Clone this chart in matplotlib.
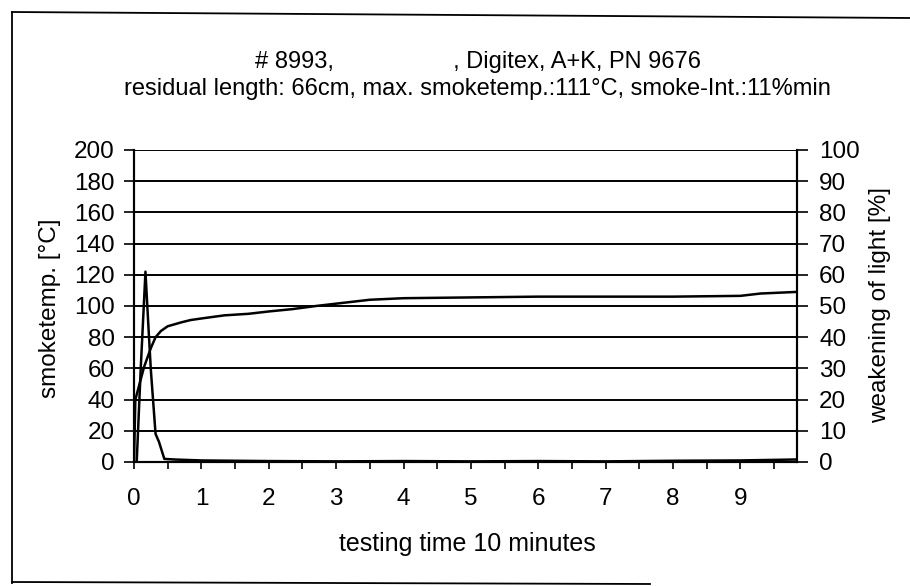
import matplotlib
matplotlib.use("Agg")
import matplotlib.pyplot as plt
from matplotlib.lines import Line2D
from matplotlib.ticker import MultipleLocator, FuncFormatter

plt.rcParams['font.family'] = ['Liberation Sans', 'DejaVu Sans']

# smoke temperature (left axis, degC)
temp_t = [0, 0.02, 0.15, 0.25, 0.32, 0.4, 0.5, 0.7, 0.84, 1.0, 1.34, 1.7,
          2.0, 2.35, 2.7, 3.0, 3.5, 4.0, 5.0, 6.0, 7.0, 8.0, 9.0, 9.3, 9.82]
temp_c = [0, 40, 61, 73, 80, 84, 87, 89.5, 91, 92, 94, 95,
          96.5, 98, 100, 101.5, 104, 105, 105.5, 106, 106, 106, 106.5, 108, 109]

# weakening of light (right axis, %)
light_t = [0, 0.04, 0.1, 0.17, 0.21, 0.25, 0.32, 0.37, 0.45, 0.6, 1.0, 1.5,
           2.0, 3.0, 4.0, 5.0, 6.0, 7.0, 8.0, 9.0, 9.82]
light_p = [0, 0, 30, 61, 45, 29.5, 9, 6.5, 1, 0.8, 0.5, 0.4,
           0.3, 0.2, 0.3, 0.2, 0.3, 0.2, 0.4, 0.5, 0.8]

title_1 = "# 8993,                  , Digitex, A+K, PN 9676"
title_2 = "residual length: 66cm, max. smoketemp.:111°C, smoke-Int.:11%min"

W, H = 910, 586
fig = plt.figure(figsize=(W/100, H/100), dpi=100)
ax = fig.add_axes([134/W, 1-462/H, (797-134)/W, (462-150)/H])

ax.plot(temp_t, temp_c, color='black', lw=1.8)
ax.set_xlim(0, 9.84)
ax.set_ylim(0, 200)
ax.yaxis.set_major_locator(MultipleLocator(20))
ax.xaxis.set_major_locator(MultipleLocator(0.5))
ax.xaxis.set_major_formatter(FuncFormatter(lambda v, p: f"{int(v)}" if v == int(v) else ""))
ax.grid(axis='y', color='black', lw=1.4)
ax.spines['top'].set_visible(False)
for s in ax.spines.values():
    s.set_linewidth(1.5)
ax.tick_params(axis='y', direction='out', length=7, width=1.2, labelsize=17.5, pad=7)
ax.tick_params(axis='x', direction='out', length=5, width=1.2, labelsize=17.5, pad=14)

ax2 = ax.twinx()
ax2.plot(light_t, light_p, color='black', lw=1.8)
ax2.set_ylim(0, 100)
ax2.yaxis.set_major_locator(MultipleLocator(10))
ax2.spines['top'].set_visible(False)
for s in ax2.spines.values():
    s.set_linewidth(1.5)
ax2.tick_params(axis='y', direction='out', length=8, width=1.2, labelsize=17.5, pad=8)

fig.text(50/W, 1-308/H, "smoketemp. [°C]", rotation=90, ha='center', va='center', fontsize=17.5)
fig.text(880/W, 1-305/H, "weakening of light [%]", rotation=90, ha='center', va='center', fontsize=17.5)
fig.text(467/W, 1-544/H, "testing time 10 minutes", ha='center', va='center', fontsize=18)

fig.text(478/W, 1-62/H, title_1, ha='center', va='center', fontsize=17)
fig.text(477/W, 1-89/H, title_2, ha='center', va='center', fontsize=17)

# scanned page frame
fig.add_artist(Line2D([12/W, 12/W], [1-583/H, 1-12/H], color='black', lw=1.3, transform=fig.transFigure))
fig.add_artist(Line2D([12/W, 1.0], [1-12/H, 1-18/H], color='black', lw=1.3, transform=fig.transFigure))
fig.add_artist(Line2D([12/W, 650/W], [1-582/H, 1-584/H], color='black', lw=1.3, transform=fig.transFigure))

fig.savefig("out.png", dpi=100)
